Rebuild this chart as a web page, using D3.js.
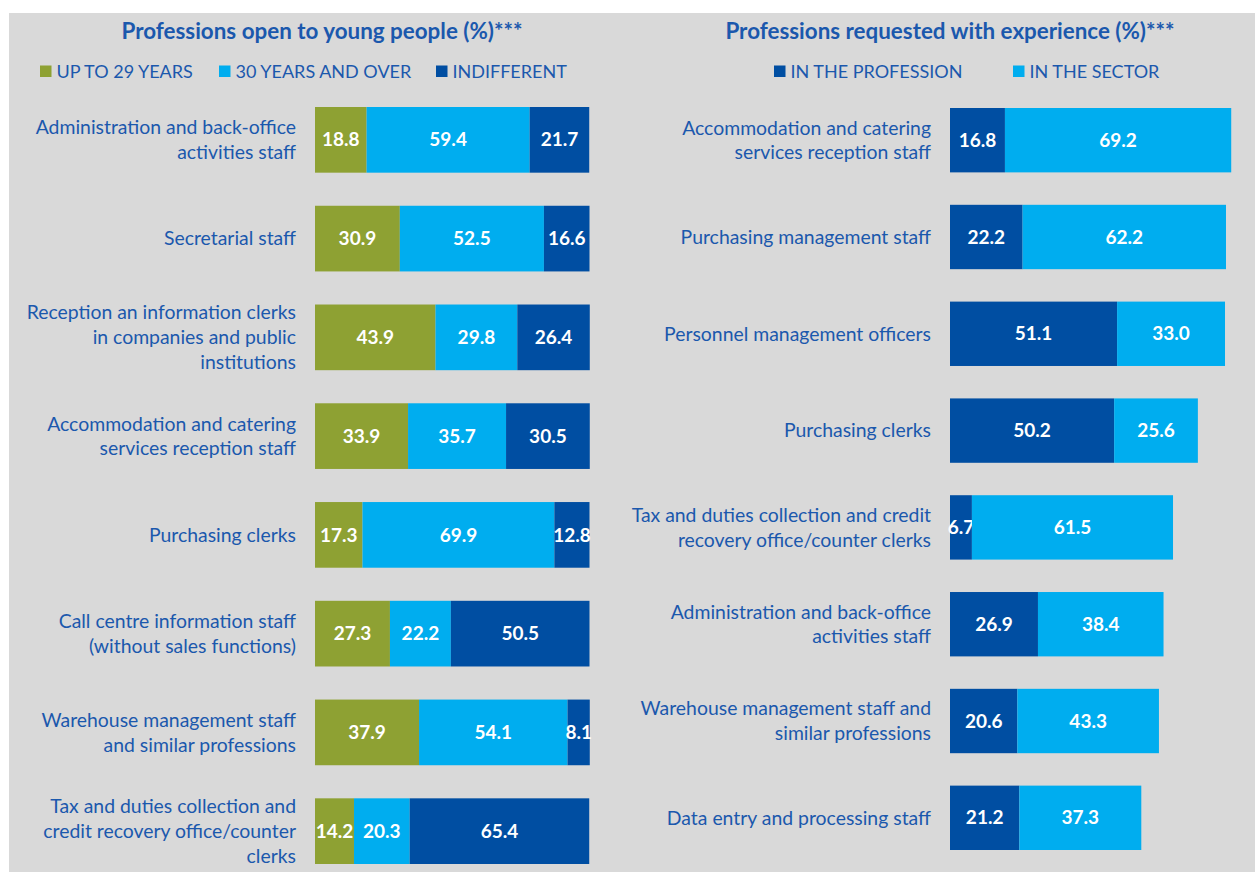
<!DOCTYPE html>
<html>
<head>
<meta charset="utf-8">
<script src="https://cdn.jsdelivr.net/npm/d3@7"></script>
<style>
  body { margin: 0; background: #fff; }
  svg { display: block; }
  text { font-family: Lato, "Open Sans", sans-serif; }
</style>
</head>
<body>
<svg id="chart" width="1255" height="872"></svg>
<script>
// left panel data
var leftCats = [
  "Administration and back-office|activities staff",
  "Secretarial staff",
  "Reception an information clerks|in companies and public|institutions",
  "Accommodation and catering|services reception staff",
  "Purchasing clerks",
  "Call centre information staff|(without sales functions)",
  "Warehouse management staff|and similar professions",
  "Tax and duties collection and|credit recovery office/counter|clerks"
];
var upTo29 = [18.8, 30.9, 43.9, 33.9, 17.3, 27.3, 37.9, 14.2];
var over30 = [59.4, 52.5, 29.8, 35.7, 69.9, 22.2, 54.1, 20.3];
var indifferent = [21.7, 16.6, 26.4, 30.5, 12.8, 50.5, 8.1, 65.4];
var leftSeries = ["UP TO 29 YEARS", "30 YEARS AND OVER", "INDIFFERENT"];

// right panel data
var rightCats = [
  "Accommodation and catering|services reception staff",
  "Purchasing management staff",
  "Personnel management officers",
  "Purchasing clerks",
  "Tax and duties collection and credit|recovery office/counter clerks",
  "Administration and back-office|activities staff",
  "Warehouse management staff and|similar professions",
  "Data entry and processing staff"
];
var inProfession = [16.8, 22.2, 51.1, 50.2, 6.7, 26.9, 20.6, 21.2];
var inSector = [69.2, 62.2, 33.0, 25.6, 61.5, 38.4, 43.3, 37.3];
var rightSeries = ["IN THE PROFESSION", "IN THE SECTOR"];

var green = "#8ea133", light = "#00adef", dark = "#004ea2", txt = "#1b58ad";

var svg = d3.select("#chart");
var width = 1255, height = 872;

svg.append("rect")
  .attr("x", 9).attr("y", 13)
  .attr("width", width - 9).attr("height", height - 13)
  .attr("fill", "#d9d9d9");

function drawPanel(opt) {
  var keys = opt.keys;
  var rows = opt.cats.map(function(c, i) {
    var r = {cat: c};
    keys.forEach(function(k, j) { r[k] = opt.values[j][i]; });
    return r;
  });
  var stacked = d3.stack().keys(keys)(rows);

  var x = d3.scaleLinear().domain([0, 100]).range([opt.x0, opt.x0 + opt.w]);
  var y = d3.scaleBand()
    .domain(d3.range(rows.length))
    .range([opt.y0, opt.y1])
    .paddingInner(opt.pad).paddingOuter(0);

  var g = svg.append("g");

  // title
  g.append("text")
    .attr("x", opt.titleX).attr("y", 39)
    .attr("text-anchor", "middle")
    .attr("font-size", "22.4px").attr("font-weight", "bold")
    .attr("fill", txt)
    .text(opt.title);

  // legend
  var leg = g.selectAll(".leg").data(keys).enter().append("g")
    .attr("transform", function(d, i) { return "translate(" + opt.legX[i] + ",72)"; });
  leg.append("rect")
    .attr("x", 0).attr("y", -6.5).attr("width", 11.5).attr("height", 11.5)
    .attr("fill", function(d, i) { return opt.colors[i]; });
  leg.append("text")
    .attr("x", 16.5).attr("y", 5.5)
    .attr("font-size", "18px").attr("fill", txt)
    .text(function(d) { return d; });

  // bars
  var layers = g.selectAll(".layer").data(stacked).enter().append("g")
    .attr("fill", function(d, i) { return opt.colors[i]; });
  layers.selectAll("rect").data(function(d) { return d; }).enter().append("rect")
    .attr("x", function(d) { return x(d[0]); })
    .attr("y", function(d, i) { return y(i); })
    .attr("width", function(d) { return x(d[1]) - x(d[0]); })
    .attr("height", y.bandwidth());

  // value labels
  layers.selectAll("text").data(function(d) { return d; }).enter().append("text")
    .attr("x", function(d) { return (x(d[0]) + x(d[1])) / 2; })
    .attr("y", function(d, i) { return y(i) + y.bandwidth() / 2; })
    .attr("dy", "0.35em")
    .attr("text-anchor", "middle")
    .attr("font-size", "19px").attr("font-weight", "bold")
    .attr("fill", "#fff")
    .text(function(d) { return (d[1] - d[0]).toFixed(1); });

  // category labels
  var lab = g.selectAll(".cat").data(rows).enter().append("text")
    .attr("text-anchor", "end")
    .attr("font-size", opt.labelSize).attr("fill", txt)
    .attr("transform", function(d, i) {
      return "translate(" + (opt.x0 - 19) + "," + (y(i) + y.bandwidth() / 2) + ")";
    });
  lab.each(function(d) {
    var lines = d.cat.split("|");
    var t = d3.select(this);
    lines.forEach(function(l, j) {
      t.append("tspan")
        .attr("x", 0)
        .attr("y", (j - (lines.length - 1) / 2) * 24.7)
        .attr("dy", "0.35em")
        .text(l);
    });
  });
}

drawPanel({
  title: "Professions open to young people (%)***",
  titleX: 322,
  cats: leftCats,
  keys: leftSeries,
  values: [upTo29, over30, indifferent],
  colors: [green, light, dark],
  legX: [40, 219, 436],
  x0: 315, w: 274.5,
  y0: 107, y1: 864, pad: 0.335,
  labelSize: "19.4px"
});

drawPanel({
  title: "Professions requested with experience (%)***",
  titleX: 950,
  cats: rightCats,
  keys: rightSeries,
  values: [inProfession, inSector],
  colors: [dark, light],
  legX: [774, 1013],
  x0: 950, w: 327,
  y0: 108, y1: 850, pad: 0.335,
  labelSize: "19.4px"
});
</script>
</body>
</html>
